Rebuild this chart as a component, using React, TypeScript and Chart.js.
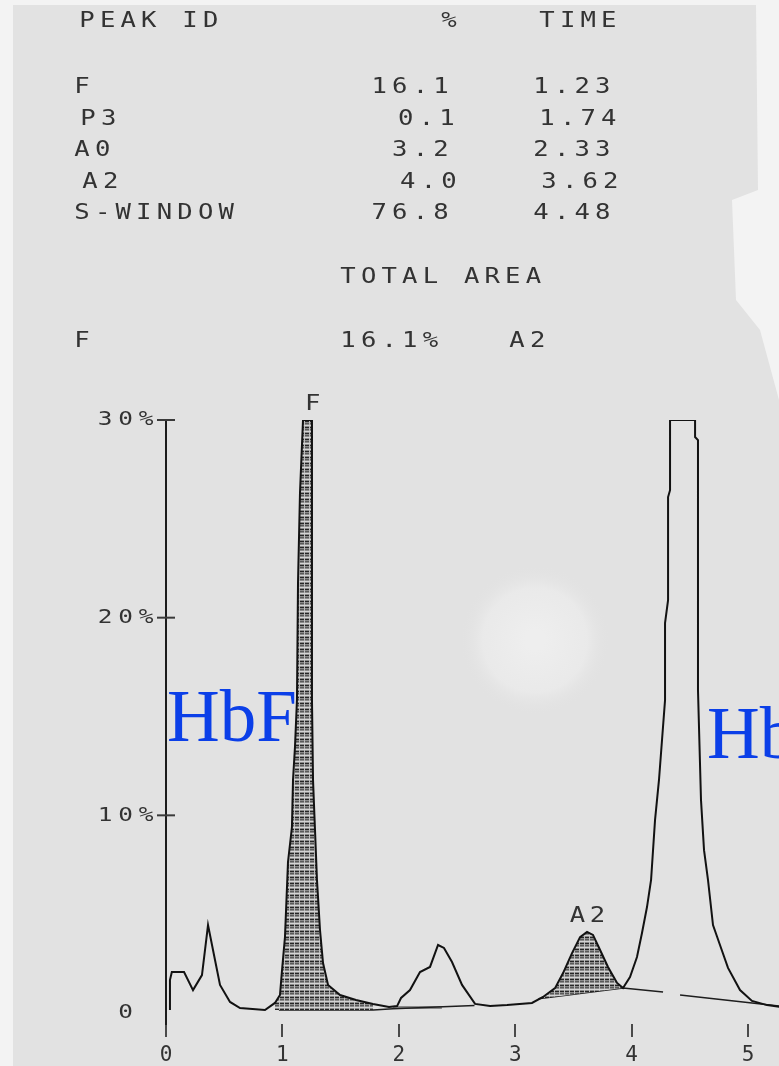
import React, { useEffect, useRef } from 'react';
import { Chart, registerables } from 'chart.js';

Chart.register(...registerables);

// ---- printed report table ----
const peakIds = ['F', 'P3', 'A0', 'A2', 'S-WINDOW'];
const peakPercents = ['16.1', '0.1', '3.2', '4.0', '76.8'];
const peakTimes = ['1.23', '1.74', '2.33', '3.62', '4.48'];
const rowShift = [0, 6, 0, 8, 0];
const totalAreaLine = ['F', '16.1%', 'A2'];

// ---- axes ----
const xTicks = [0, 1, 2, 3, 4, 5];
const yTicks = [0, 10, 20, 30];
const yTickLabels = ['0 ', '10%', '20%', '30%'];

// ---- chromatogram trace (time in min, signal in %) ----
const traceTime = [
  0.034, 0.034, 0.05, 0.155, 0.232, 0.309, 0.361, 0.421, 0.464, 0.55,
  0.636, 0.85, 0.936, 0.979, 0.997, 1.022, 1.048, 1.082, 1.091, 1.108,
  1.125, 1.134, 1.151, 1.177, 1.254, 1.254, 1.263, 1.28, 1.297, 1.323,
  1.349, 1.392, 1.495, 1.632, 1.778, 1.916, 1.985, 2.019, 2.096, 2.182,
  2.268, 2.337, 2.388, 2.457, 2.543, 2.655, 2.784, 2.93, 3.144, 3.239,
  3.342, 3.411, 3.488, 3.557, 3.617, 3.668, 3.729, 3.797, 3.875, 3.926,
  3.986, 4.046, 4.089, 4.132, 4.167, 4.201, 4.235, 4.261, 4.287, 4.287,
  4.313, 4.313, 4.33, 4.33, 4.545, 4.545, 4.57, 4.57, 4.596, 4.622,
  4.656, 4.699, 4.759, 4.828, 4.931, 5.034, 5.163, 5.29,
];
const traceValue = [
  0.15, 1.67, 2.07, 2.07, 1.16, 1.92, 4.45, 2.68, 1.42, 0.56,
  0.25, 0.15, 0.51, 0.91, 2.18, 3.84, 7.64, 9.41, 11.79, 13.45,
  15.83, 21.75, 26.3, 30, 30, 15.83, 11.79, 9.26, 6.73, 4.2,
  2.53, 1.42, 0.91, 0.66, 0.46, 0.3, 0.35, 0.76, 1.16, 2.07,
  2.33, 3.44, 3.29, 2.58, 1.42, 0.46, 0.35, 0.4, 0.51, 0.81,
  1.26, 2.02, 3.03, 3.84, 4.1, 3.95, 3.19, 2.33, 1.52, 1.26,
  1.82, 2.83, 4.05, 5.36, 6.73, 9.76, 11.79, 13.81, 15.83, 19.73,
  20.89, 26.1, 26.45, 30, 30, 29.14, 28.98, 16.34, 10.77, 8.24,
  6.73, 4.45, 3.44, 2.28, 1.16, 0.61, 0.4, 0.3,
];

// integrated (hatched) windows
const fWindow = [0.93, 1.78];
const fBaseValue = 0.15;
const a2Window = [3.23, 3.93];

// integration baselines
const baseFTime = [0.97, 1.78, 1.95, 2.65];
const baseFValue = [0.15, 0.15, 0.22, 0.38];
const baseA0Time = [1.95, 2.37];
const baseA0Value = [0.28, 0.28];
const baseSTime = [3.2, 3.926, 4.27, 4.34, 4.416, 5.034, 5.266];
const baseSValue: (number | null)[] = [0.72, 1.26, 1.06, null, 0.91, 0.51, 0.35];

// peak name marks printed above the apexes
const markNames = ['F', 'A2'];
const markTimes = [1.26, 3.62];
const markValues = [30, 4.1];

const INK = '#333333';
const MONO = '"DejaVu Sans Mono", "Liberation Mono", monospace';

function pts(xs: number[], ys: (number | null)[]) {
  return xs.map((x, i) => ({ x, y: ys[i] }));
}

function windowPts(range: number[]) {
  const out: { x: number; y: number }[] = [];
  traceTime.forEach((t, i) => {
    if (t >= range[0] && t <= range[1]) out.push({ x: t, y: traceValue[i] });
  });
  return out;
}

function makeHatch(): CanvasPattern | string {
  const c = document.createElement('canvas');
  c.width = 5;
  c.height = 6;
  const g = c.getContext('2d');
  if (!g) return '#888';
  g.fillStyle = '#8a8a8a';
  g.fillRect(0, 0, 5, 6);
  g.fillStyle = '#262626';
  g.fillRect(0, 1, 4, 1);
  g.fillStyle = '#5a5a5a';
  g.fillRect(0, 3, 4, 1);
  g.fillStyle = '#d4d4d4';
  g.fillRect(0, 5, 5, 1);
  g.fillStyle = '#bdbdbd';
  g.fillRect(4, 0, 1, 5);
  return g.createPattern(c, 'repeat') || '#888';
}

// monospaced printer text with a wide, fixed character pitch
function printText(
  ctx: CanvasRenderingContext2D,
  text: string,
  x: number,
  y: number,
  align: 'left' | 'right' | 'center',
  pitch = 20.6,
  size = 21
) {
  ctx.save();
  ctx.font = `${size}px ${MONO}`;
  ctx.fillStyle = INK;
  ctx.textAlign = 'center';
  ctx.textBaseline = 'middle';
  const n = text.length;
  const half = 7;
  let start: number;
  if (align === 'left') start = x + half;
  else if (align === 'right') start = x - half - (n - 1) * pitch;
  else start = x - ((n - 1) * pitch) / 2;
  for (let i = 0; i < n; i++) {
    ctx.save();
    ctx.translate(start + i * pitch, y);
    ctx.scale(1.22, 1);
    ctx.fillText(text[i], 0, 0);
    ctx.restore();
  }
  ctx.restore();
}

const printout = {
  id: 'printout',
  beforeDraw(chart: Chart) {
    const { ctx, width, height } = chart;
    ctx.save();
    ctx.fillStyle = '#f3f3f3';
    ctx.fillRect(0, 0, width, height);
    // paper sheet
    ctx.fillStyle = '#e2e2e2';
    ctx.beginPath();
    ctx.moveTo(13, 5);
    ctx.lineTo(756, 5);
    ctx.lineTo(758, 190);
    ctx.lineTo(732, 200);
    ctx.lineTo(736, 300);
    ctx.lineTo(760, 330);
    ctx.lineTo(779, 400);
    ctx.lineTo(779, height);
    ctx.lineTo(13, height);
    ctx.closePath();
    ctx.fill();
    // lighter patch on the sheet
    const g = ctx.createRadialGradient(535, 640, 10, 535, 640, 75);
    g.addColorStop(0, 'rgba(238,238,238,1)');
    g.addColorStop(0.65, 'rgba(236,236,236,0.75)');
    g.addColorStop(1, 'rgba(226,226,226,0)');
    ctx.fillStyle = g;
    ctx.fillRect(440, 540, 200, 200);
    ctx.restore();
  },
  afterDraw(chart: Chart) {
    const { ctx, chartArea } = chart;
    const xs = chart.scales.x;
    const ys = chart.scales.y;

    // report table
    printText(ctx, 'PEAK ID', 80, 22, 'left');
    printText(ctx, '%', 449, 22, 'center');
    printText(ctx, 'TIME', 540, 22, 'left');
    peakIds.forEach((id, i) => {
      const y = 88 + i * 31.5;
      const s = rowShift[i];
      printText(ctx, id, 75 + s, y, 'left');
      printText(ctx, peakPercents[i], 448 + s, y, 'right');
      printText(ctx, peakTimes[i], 534 + s, y, 'left');
    });
    printText(ctx, 'TOTAL AREA', 341, 278, 'left');
    printText(ctx, totalAreaLine[0], 75, 342, 'left');
    printText(ctx, totalAreaLine[1], 341, 342, 'left');
    printText(ctx, totalAreaLine[2], 510, 342, 'left');

    // y axis tick crosses and labels
    ctx.save();
    ctx.strokeStyle = '#3a3a3a';
    ctx.lineWidth = 2;
    yTicks.forEach((v, i) => {
      const py = ys.getPixelForValue(v);
      if (v > 0) {
        ctx.beginPath();
        ctx.moveTo(chartArea.left - 9, py);
        ctx.lineTo(chartArea.left + 9, py);
        ctx.stroke();
      }
      printText(ctx, yTickLabels[i], chartArea.left - 13, py, 'right', 20.5, 20);
    });
    ctx.restore();

    // peak names above apexes
    markNames.forEach((name, i) => {
      const px = xs.getPixelForValue(markTimes[i]);
      const py = ys.getPixelForValue(markValues[i]);
      printText(ctx, name, px, py - 15, 'center', 20, 21);
    });

    // blue annotations
    ctx.save();
    ctx.fillStyle = '#0b3fe8';
    ctx.font = '73px "Liberation Serif", "DejaVu Serif", serif';
    ctx.textAlign = 'left';
    ctx.textBaseline = 'alphabetic';
    ctx.fillText('HbF', 167, 741);
    ctx.fillText('HbA', 707, 758);
    ctx.restore();
  },
};

export default function App() {
  const ref = useRef<HTMLCanvasElement>(null);

  useEffect(() => {
    document.body.style.margin = '0';
    document.body.style.overflow = 'hidden';
    const canvas = ref.current;
    if (!canvas) return;
    const hatch = makeHatch();

    const chart = new Chart(canvas, {
      type: 'line',
      data: {
        datasets: [
          {
            label: 'Signal',
            data: pts(traceTime, traceValue),
            borderColor: '#121212',
            borderWidth: 2,
            pointRadius: 0,
            tension: 0,
            fill: false,
          },
          {
            label: 'F area',
            data: windowPts(fWindow),
            borderWidth: 0,
            borderColor: 'rgba(0,0,0,0)',
            backgroundColor: hatch,
            pointRadius: 0,
            fill: { value: fBaseValue },
          },
          {
            label: 'A2 area',
            data: windowPts(a2Window),
            borderWidth: 0,
            borderColor: 'rgba(0,0,0,0)',
            backgroundColor: hatch,
            pointRadius: 0,
            fill: 4,
          },
          {
            label: 'Baseline F',
            data: pts(baseFTime, baseFValue),
            borderColor: '#1e1e1e',
            borderWidth: 1.5,
            pointRadius: 0,
            fill: false,
          },
          {
            label: 'Baseline A2',
            data: pts(baseSTime, baseSValue),
            borderColor: '#1e1e1e',
            borderWidth: 1.5,
            pointRadius: 0,
            spanGaps: false,
            fill: false,
          },
          {
            label: 'Baseline A0',
            data: pts(baseA0Time, baseA0Value),
            borderColor: '#8a8a8a',
            borderWidth: 3,
            pointRadius: 0,
            fill: false,
          },
        ],
      },
      options: {
        responsive: false,
        animation: false,
        devicePixelRatio: 1,
        parsing: false,
        layout: { padding: { top: 420, left: 0, right: 0, bottom: 0 } },
        plugins: {
          legend: { display: false },
          tooltip: { enabled: false },
          title: { display: false },
        },
        scales: {
          x: {
            type: 'linear',
            min: 0,
            max: 5.266,
            afterBuildTicks: (s: any) => {
              s.ticks = xTicks.map((v) => ({ value: v }));
            },
            afterFit: (s: any) => {
              s.height = 42;
            },
            grid: {
              display: true,
              drawOnChartArea: false,
              drawTicks: true,
              tickLength: 13,
              color: '#4a4a4a',
              lineWidth: 2,
            },
            border: { display: false },
            ticks: {
              autoSkip: false,
              maxRotation: 0,
              padding: 6,
              color: INK,
              font: { family: MONO, size: 21 },
              callback: (v: any) => String(v),
            },
          },
          y: {
            type: 'linear',
            min: -0.556,
            max: 30,
            afterBuildTicks: (s: any) => {
              s.ticks = yTicks.map((v) => ({ value: v }));
            },
            afterFit: (s: any) => {
              s.width = 166;
            },
            grid: { display: false },
            border: { display: true, color: '#1c1c1c', width: 2, dash: [7, 2] },
            ticks: { display: false },
          },
        },
      },
      plugins: [printout],
    } as any);

    return () => chart.destroy();
  }, []);

  return (
    <div style={{ width: 779, height: 1066, overflow: 'hidden' }}>
      <canvas ref={ref} width={779} height={1066} style={{ display: 'block', width: 779, height: 1066 }} />
    </div>
  );
}
